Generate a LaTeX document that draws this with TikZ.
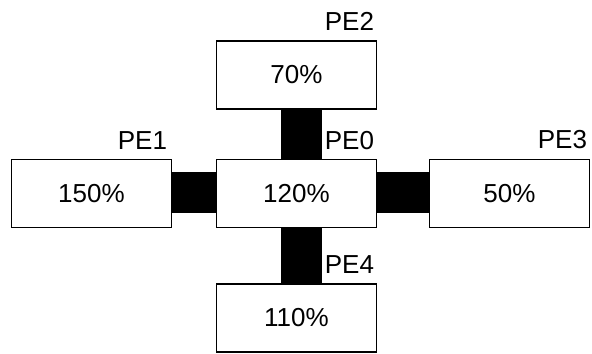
\documentclass[tikz,border=0pt]{standalone}
\usepackage{fontspec}
\setmainfont{Liberation Sans}
\usepackage{tikz}
\usetikzlibrary{calc}

\begin{document}
\begin{tikzpicture}[x=0.025cm, y=-0.025cm,
    pebox/.style={draw, line width=1.1pt, minimum width=4.0cm, minimum height=1.7cm,
      font=\fontsize{18.5}{22}\selectfont},
    pename/.style={anchor=base east, inner sep=0pt, font=\fontsize{18.5}{22}\selectfont},
    link/.style={line width=1.025cm}]
  \useasboundingbox (0, 0) rectangle (592, 354);

  \node[pebox] (pe0) at (296.5, 193.5) {120\%};
  \node[pebox] (pe1) at (91.5, 193.5) {150\%};
  \node[pebox] (pe2) at (296.5, 75) {70\%};
  \node[pebox] (pe3) at (509.5, 193.5) {50\%};
  \node[pebox] (pe4) at (296.5, 318) {110\%};

  % thick links between neighbours
  \draw[link] ([xshift=0.125cm]pe2.south) -- ([xshift=0.125cm]pe0.north);
  \draw[link] ([xshift=0.125cm]pe0.south) -- ([xshift=0.125cm]pe4.north);
  \draw[link] ([yshift=0.025cm]pe1.east) -- ([yshift=0.025cm]pe0.west);
  \draw[link] ([yshift=0.025cm]pe0.east) -- ([yshift=0.025cm]pe3.west);

  \node[pename] (n0) at ($(pe0.north east)+(-3, -9)$) {PE0};
  \node[pename] (n1) at ($(pe1.north east)+(-5, -9)$) {PE1};
  \node[pename] (n2) at ($(pe2.north east)+(-3, -10)$) {PE2};
  \node[pename] (n3) at ($(pe3.north east)+(-3, -10)$) {PE3};
  \node[pename] (n4) at ($(pe4.north east)+(-3, -10)$) {PE4};
\end{tikzpicture}
\end{document}
